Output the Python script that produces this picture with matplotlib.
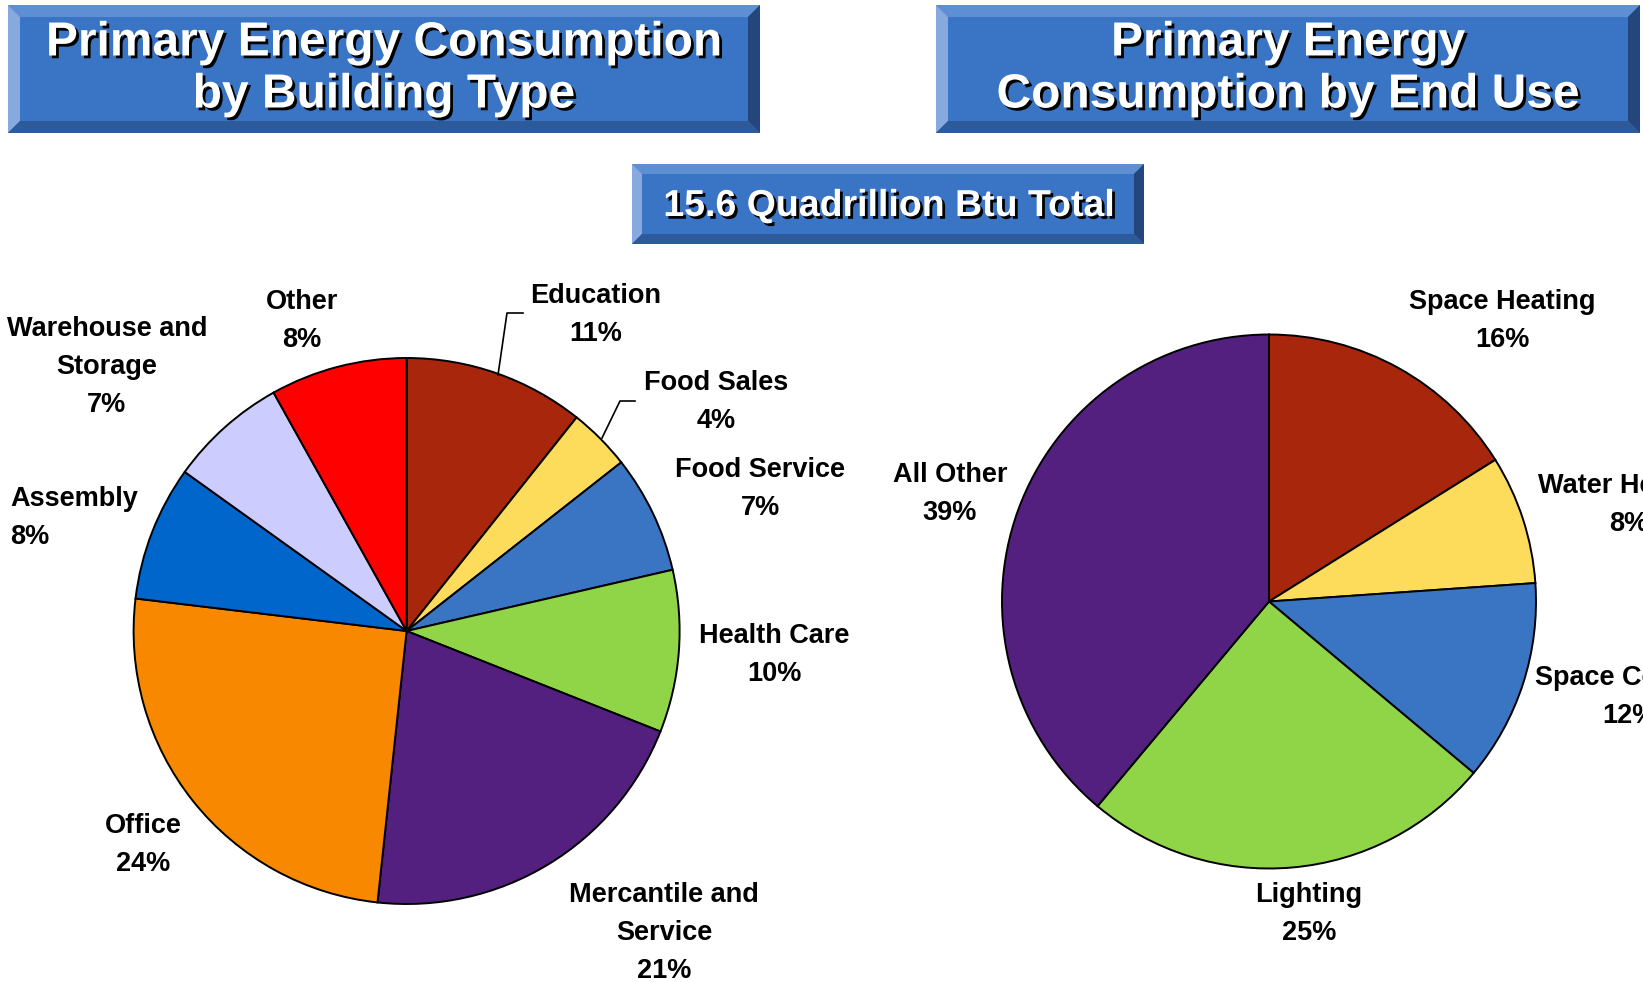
import matplotlib
matplotlib.use('Agg')
import matplotlib.pyplot as plt
import matplotlib.patheffects as pe
from matplotlib.patches import Polygon
from matplotlib.lines import Line2D

plt.rcParams['font.family'] = 'Liberation Sans'
plt.rcParams['font.weight'] = 'bold'

W, H = 1643, 982

# building type shares and their printed labels
building_types = ['Education', 'Food Sales', 'Food Service', 'Health Care',
                  'Mercantile and\nService', 'Office', 'Assembly',
                  'Warehouse and\nStorage', 'Other']
building_share = [10.7, 3.7, 7.0, 9.6, 20.7, 25.2, 8.0, 7.0, 8.1]
building_pct = ['11%', '4%', '7%', '10%', '21%', '24%', '8%', '7%', '8%']
building_colors = ['#A8260C', '#FCDC5A', '#3A75C4', '#90D447', '#54207F',
                   '#F88800', '#0066CC', '#CCCCFF', '#FF0000']

# end use shares
end_uses = ['Space Heating', 'Water Heating', 'Space Cooling', 'Lighting', 'All Other']
end_share = [16.1, 7.8, 12.2, 25.0, 38.9]
end_pct = ['16%', '8%', '12%', '25%', '39%']
end_colors = ['#A8260C', '#FCDC5A', '#3A75C4', '#90D447', '#54207F']

fig = plt.figure(figsize=(W / 100, H / 100), dpi=100, facecolor='white')


def fx(x):
    return x / W


def fy(y):
    return 1 - y / H


def bevel_box(x0, y0, x1, y1, b):
    parts = [
        ([(x0, y0), (x1, y0), (x1, y1), (x0, y1)], '#3A74C4'),
        ([(x0, y0), (x1, y0), (x1 - b, y0 + b), (x0 + b, y0 + b)], '#5F8FD3'),
        ([(x0, y0), (x0 + b, y0 + b), (x0 + b, y1 - b), (x0, y1)], '#87A9DD'),
        ([(x1, y0), (x1, y1), (x1 - b, y1 - b), (x1 - b, y0 + b)], '#24467A'),
        ([(x0, y1), (x1, y1), (x1 - b, y1 - b), (x0 + b, y1 - b)], '#2D5A9A'),
    ]
    for pts, c in parts:
        fig.patches.append(Polygon([(fx(px), fy(py)) for px, py in pts], closed=True,
                                   facecolor=c, edgecolor='none',
                                   transform=fig.transFigure, figure=fig))


shadow = [pe.withSimplePatchShadow(offset=(2, -2), shadow_rgbFace='black', alpha=1)]

bevel_box(8, 5, 760, 133, 12)
fig.text(fx(384), fy(69), 'Primary Energy Consumption\nby Building Type', color='white',
         fontsize=34.5, ha='center', va='center', linespacing=1.2, path_effects=shadow)
bevel_box(936, 5, 1640, 133, 12)
fig.text(fx(1288), fy(69), 'Primary Energy\nConsumption by End Use', color='white',
         fontsize=34.5, ha='center', va='center', linespacing=1.2, path_effects=shadow)
bevel_box(632, 164, 1144, 244, 10)
fig.text(fx(889), fy(206), '15.6 Quadrillion Btu Total', color='white',
         fontsize=27, ha='center', va='center', path_effects=shadow)


def pie_axes(cx, cy, r):
    m = 1.02
    ax = fig.add_axes([fx(cx - r * m), fy(cy + r * m), 2 * r * m / W, 2 * r * m / H])
    return ax


wp = dict(edgecolor='black', linewidth=1.4)

ax1 = pie_axes(406.6, 631, 273)
ax1.pie(building_share, colors=building_colors, startangle=90, counterclock=False,
        wedgeprops=wp)
ax1.set_xlim(-1.02, 1.02)
ax1.set_ylim(-1.02, 1.02)

ax2 = pie_axes(1269, 601.5, 267)
ax2.pie(end_share, colors=end_colors, startangle=90, counterclock=False, wedgeprops=wp)
ax2.set_xlim(-1.02, 1.02)
ax2.set_ylim(-1.02, 1.02)

# label anchors in pixel coords
b_pos = [(596, 315, 'center'), (716, 402, 'center'), (760, 489, 'center'),
         (774, 655, 'center'), (664, 933, 'center'), (143, 845, 'center'),
         (10, 518, 'left'), (107, 367, 'center'), (302, 321, 'center')]
for name, pct, (x, y, ha) in zip(building_types, building_pct, b_pos):
    fig.text(fx(x), fy(y), name + '\n' + pct, fontsize=19.5, ha=ha, va='center',
             multialignment=ha, linespacing=1.62)

e_pos = [(1502, 321, 'center'), (1629, 505, 'center'), (1629, 697, 'center'),
         (1309, 914, 'center'), (950, 494, 'center')]
for name, pct, (x, y, ha) in zip(end_uses, end_pct, e_pos):
    fig.text(fx(x), fy(y), name + '\n' + pct, fontsize=19.5, ha=ha, va='center',
             linespacing=1.62)

# leader lines
for xs, ys in [([498, 507, 523], [375, 313, 313]), ([602, 620, 635], [438, 401, 401])]:
    fig.lines.append(Line2D([fx(v) for v in xs], [fy(v) for v in ys], color='black',
                            linewidth=1.2, transform=fig.transFigure))

fig.savefig('out.png', dpi=100)
